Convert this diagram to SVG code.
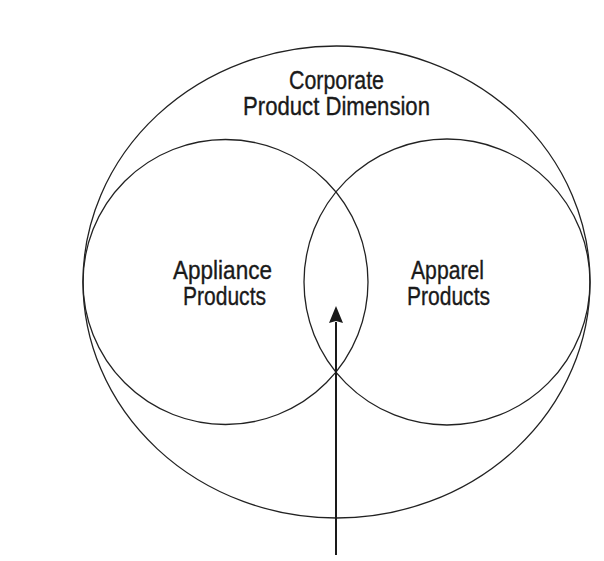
<svg xmlns="http://www.w3.org/2000/svg" width="604" height="561" viewBox="0 0 604 561">
<style>
.shape{fill:none;stroke:#222;stroke-width:1.3}
.lbl{font-family:"Liberation Sans",Arial,sans-serif;font-size:25.5px;fill:#1a1a1a;stroke:#1a1a1a;stroke-width:0.35;text-anchor:middle}
.conn{stroke:#1a1a1a;stroke-width:2;fill:none}
.head{fill:#1a1a1a}
</style>
<rect width="604" height="561" fill="#fff"/>
<g id="corporate">
<ellipse class="shape" cx="336.5" cy="282" rx="253.5" ry="236"/>
<text class="lbl" x="336.5" y="89" textLength="95" lengthAdjust="spacingAndGlyphs">Corporate</text>
<text class="lbl" x="336.5" y="115" textLength="187" lengthAdjust="spacingAndGlyphs">Product Dimension</text>
</g>
<g id="appliance">
<circle class="shape" cx="225.5" cy="282" r="142.5"/>
<text class="lbl" x="222.5" y="279" textLength="99" lengthAdjust="spacingAndGlyphs">Appliance</text>
<text class="lbl" x="224.5" y="305" textLength="83" lengthAdjust="spacingAndGlyphs">Products</text>
</g>
<g id="apparel">
<circle class="shape" cx="447" cy="282" r="143"/>
<text class="lbl" x="447.5" y="279" textLength="73" lengthAdjust="spacingAndGlyphs">Apparel</text>
<text class="lbl" x="448.5" y="305" textLength="83" lengthAdjust="spacingAndGlyphs">Products</text>
</g>
<g id="connectors">
<path class="conn" d="M336 555 L336 322"/>
<path class="head" d="M336 306 L343 323 L336 321 L329 323 Z"/>
</g>
</svg>
